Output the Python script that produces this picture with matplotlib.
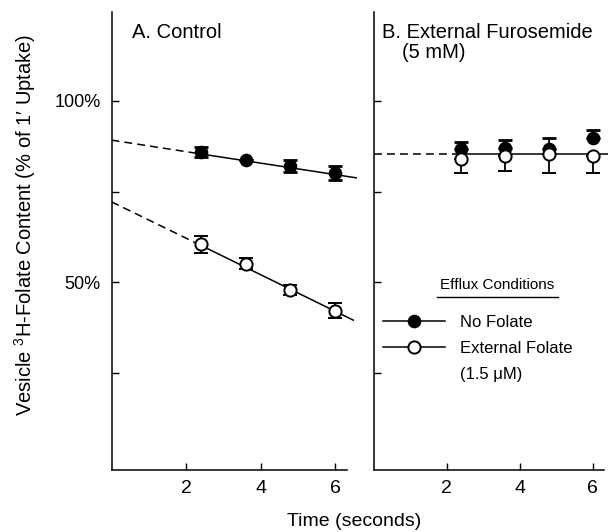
import matplotlib
matplotlib.use('Agg')
import matplotlib.pyplot as plt
from matplotlib.lines import Line2D

plt.rcParams['font.family'] = ['Liberation Sans', 'DejaVu Sans']
plt.rcParams['mathtext.fontset'] = 'custom'
plt.rcParams['mathtext.rm'] = 'Liberation Sans'
plt.rcParams['mathtext.it'] = 'Liberation Sans:italic'

# ---- data ----
time = [2.4, 3.6, 4.8, 6.0]

ctrl_nofolate = [85.9, 83.6, 82.1, 80.2]
ctrl_nofolate_err = [1.4, 0.0, 1.6, 1.9]
ctrl_extfolate = [60.5, 55.2, 48.0, 42.2]
ctrl_extfolate_err = [2.4, 1.6, 1.4, 2.0]

furo_nofolate = [86.9, 87.1, 86.7, 89.8]
furo_nofolate_err_up = [1.8, 2.1, 3.1, 2.3]
furo_extfolate = [83.9, 84.7, 85.5, 84.7]
furo_extfolate_err_down = [3.8, 4.1, 5.4, 4.6]

fit_ctrl_nofolate_x = [0.0, 2.4, 6.58]
fit_ctrl_nofolate_y = [89.2, 85.4, 78.8]
fit_ctrl_extfolate_x = [0.0, 2.4, 6.49]
fit_ctrl_extfolate_y = [72.2, 60.2, 39.6]
fit_furo_x = [0.0, 2.4, 6.42]
fit_furo_y = [85.5, 85.5, 85.5]

x_ticks = [2, 4, 6]
y_ticks = [25, 50, 75, 100]
y_ticklabels = ['', '50%', '', '100%']

W, H = 608, 532
fig = plt.figure(figsize=(W / 100, H / 100), dpi=100)

ybot, ytop = -1.7, 124.6
axb = 1 - 470 / H
axh = (470 - 11.7) / H
ax1 = fig.add_axes([111.5 / W, axb, 6.6 * 37.25 / W, axh])
ax2 = fig.add_axes([373.7 / W, axb, 6.42 * 36.5 / W, axh])

DASH = (0, (5.2, 3.3))
LW = 1.1
MS = 8.8
for ax, xmax, xend in [(ax1, 6.6, 6.31), (ax2, 6.42, 6.3)]:
    ax.set_xlim(0, xmax)
    ax.set_ylim(ybot, ytop)
    ax.spines['top'].set_visible(False)
    ax.spines['right'].set_visible(False)
    ax.spines['bottom'].set_bounds(0, xend)
    for s in ['left', 'bottom']:
        ax.spines[s].set_linewidth(1.1)
    ax.set_xticks(x_ticks)
    ax.set_xticklabels([str(t) for t in x_ticks], fontsize=14)
    ax.set_yticks(y_ticks)
    ax.tick_params(direction='in', length=5, width=1.0, pad=7)
    ax.patch.set_alpha(0)

ax1.set_yticklabels(y_ticklabels, fontsize=13)
ax1.tick_params(axis='y', pad=8)
ax2.set_yticklabels([''] * len(y_ticks))

# ---- panel A ----
for fx, fy in [(fit_ctrl_nofolate_x, fit_ctrl_nofolate_y),
               (fit_ctrl_extfolate_x, fit_ctrl_extfolate_y)]:
    ax1.plot(fx[:2], fy[:2], color='k', lw=LW, linestyle=DASH, zorder=1)
    ax1.plot(fx[1:], fy[1:], color='k', lw=LW, zorder=1)

ax1.errorbar(time, ctrl_nofolate, yerr=ctrl_nofolate_err, fmt='o', color='k',
             mfc='k', mec='k', ms=MS, elinewidth=1.3, capsize=4.7, capthick=2.0,
             zorder=3)
ax1.errorbar(time, ctrl_extfolate, yerr=ctrl_extfolate_err, fmt='o', color='k',
             mfc='white', mec='k', mew=1.4, ms=MS, elinewidth=1.3, capsize=4.7,
             capthick=2.0, zorder=3)

# ---- panel B ----
ax2.plot(fit_furo_x[:2], fit_furo_y[:2], color='k', lw=LW, linestyle=DASH,
         zorder=1, clip_on=False)
ax2.plot(fit_furo_x[1:], fit_furo_y[1:], color='k', lw=LW, zorder=1,
         clip_on=False)

ax2.errorbar(time, furo_nofolate, yerr=[[0] * 4, furo_nofolate_err_up],
             fmt='o', color='k', mfc='k', mec='k', ms=MS, elinewidth=1.3,
             capsize=4.7, capthick=2.0, zorder=3)
ax2.errorbar(time, furo_extfolate, yerr=[furo_extfolate_err_down, [0] * 4],
             fmt='o', color='k', mfc='white', mec='k', mew=1.4, ms=MS,
             elinewidth=1.3, capsize=4.7, capthick=2.0, zorder=4)

# ---- legend ----
h1 = Line2D([], [], color='k', lw=LW, marker='o', mfc='k', mec='k', ms=MS)
h2 = Line2D([], [], color='k', lw=LW, marker='o', mfc='white', mec='k',
            mew=1.4, ms=MS)
h3 = Line2D([], [], lw=0)
ax2.legend([h1, h2, h3], ['No Folate', 'External Folate', '(1.5 \u03bcM)'],
           loc='upper left', bbox_to_anchor=(383 / W, 1 - 315 / H),
           bbox_transform=fig.transFigure, frameon=False, borderpad=0,
           borderaxespad=0, handlelength=3.7, handletextpad=0.9,
           labelspacing=0.66, fontsize=12, numpoints=1)
fig.text(497.5 / W, 1 - 285 / H, 'Efflux Conditions', ha='center',
         va='center', fontsize=11)
fig.add_artist(Line2D([436.7 / W, 558 / W], [1 - 297 / H, 1 - 297 / H],
                      transform=fig.transFigure, color='k', lw=1.0))

# ---- titles & labels ----
fig.text(131.7 / W, 1 - 33 / H, 'A. Control', ha='left', va='center',
         fontsize=14.5)
fig.text(381.7 / W, 1 - 33 / H, 'B. External Furosemide', ha='left',
         va='center', fontsize=14.5)
fig.text(401.7 / W, 1 - 53 / H, '(5 mM)', ha='left', va='center',
         fontsize=14.5)
fig.text(354 / W, 1 - 521.7 / H, 'Time (seconds)', ha='center', va='center',
         fontsize=14)
fig.text(25 / W, 1 - 225 / H,
         'Vesicle $^{3}$H\u2010Folate Content (% of 1\u2032 Uptake)',
         rotation=90, ha='center', va='center', fontsize=14.5)

fig.savefig('out.png', dpi=100)
